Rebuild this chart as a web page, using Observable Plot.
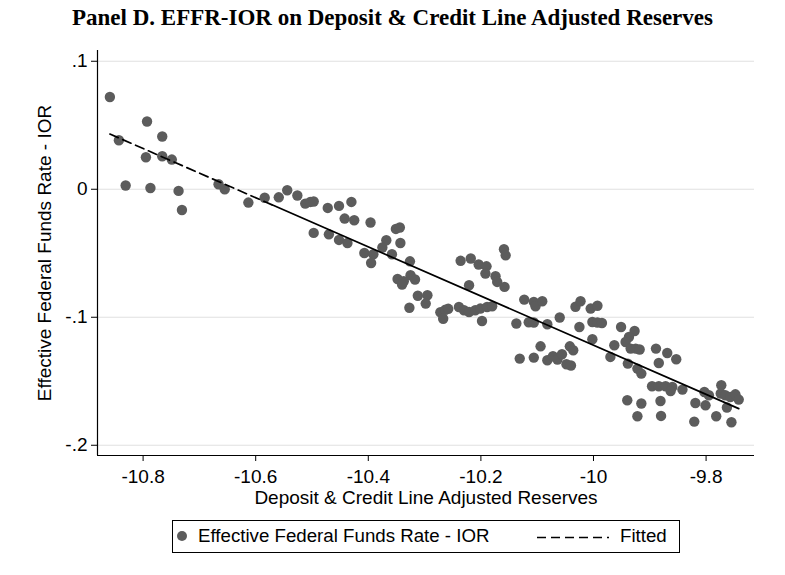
<!DOCTYPE html>
<html><head><meta charset="utf-8">
<script src="https://cdn.jsdelivr.net/npm/d3@7"></script>
<script src="https://cdn.jsdelivr.net/npm/@observablehq/plot@0.6"></script>
<style>
body{margin:0;background:#fff;width:785px;height:575px;overflow:hidden;position:relative;font-family:"Liberation Sans",Arial,sans-serif;}
#title{position:absolute;left:0;top:4px;width:785px;text-align:center;font-family:"Liberation Serif","Times New Roman",serif;font-weight:bold;font-size:23px;line-height:28px;}
#chart{position:absolute;left:0;top:36px;}
#legend{position:absolute;left:172px;top:520px;width:506px;height:31px;border:1px solid #000;font-size:18.7px;}
#legend .dot{position:absolute;left:4px;top:10px;width:10px;height:10px;border-radius:50%;background:#5c5c5c;}
#legend .t1{position:absolute;left:25px;top:4px;line-height:22px;white-space:nowrap;}
#legend svg{position:absolute;left:364px;top:15px;}
#legend .t2{position:absolute;left:447px;top:4px;line-height:22px;white-space:nowrap;}
</style></head><body>
<div id="title"></div>
<div id="chart"></div>
<div id="legend"><div class="dot"></div><span class="t1"></span>
<svg width="72" height="3"><line x1="0" y1="1.5" x2="72" y2="1.5" stroke="#000" stroke-width="1.6" stroke-dasharray="9,5"></line></svg>
<span class="t2"></span></div>
<script>
const titleText = "Panel D. EFFR-IOR on Deposit & Credit Line Adjusted Reserves";
const xLabel = "Deposit & Credit Line Adjusted Reserves";
const yLabel = "Effective Federal Funds Rate - IOR";
const seriesName = "Effective Federal Funds Rate - IOR";
const fitName = "Fitted";

const xTicks = [-10.8, -10.6, -10.4, -10.2, -10, -9.8];
const yTicks = [0.1, 0, -0.1, -0.2];
const xDomain = [-10.881, -9.714];
const yDomain = [-0.208, 0.1084];
const fitSplit = -10.57;

const reserves = [
-10.859,-10.793,-10.843,-10.766,-10.795,-10.766,-10.749,-10.831,-10.787,-10.737,
-10.731,-10.666,-10.655,-10.613,-10.584,-10.559,-10.544,-10.526,-10.512,-10.503,
-10.497,-10.472,-10.452,-10.430,-10.442,-10.425,-10.396,-10.497,-10.470,-10.452,
-10.437,-10.351,-10.344,-10.368,-10.343,-10.375,-10.407,-10.391,-10.395,-10.358,
-10.326,-10.348,-10.337,-10.325,-10.317,-10.340,-10.312,-10.295,-10.298,-10.327,
-10.272,-10.263,-10.267,-10.258,-10.239,-10.236,-10.218,-10.204,-10.190,-10.192,
-10.174,-10.171,-10.158,-10.159,-10.156,-10.221,-10.230,-10.221,-10.210,-10.201,
-10.189,-10.180,-10.198,-10.137,-10.123,-10.106,-10.103,-10.091,-10.115,-10.106,
-10.082,-10.060,-10.094,-10.131,-10.106,-10.082,-10.072,-10.064,-10.056,-10.048,
-10.040,-10.042,-10.036,-10.032,-10.023,-10.005,-9.993,-10.025,-10.002,-9.993,
-10.002,-9.985,-9.951,-9.927,-9.937,-9.943,-9.934,-9.925,-9.918,-9.963,
-9.970,-9.939,-9.922,-9.915,-9.889,-9.869,-9.853,-9.884,-9.896,-9.884,
-9.872,-9.860,-9.863,-9.842,-9.940,-9.915,-9.881,-9.922,-9.880,-9.803,
-9.795,-9.819,-9.801,-9.821,-9.782,-9.755,-9.763,-9.773,-9.774,-9.766,
-9.757,-9.748,-9.742
];
const spread = [
0.0721,0.0529,0.0383,0.0412,0.0250,0.0258,0.0232,0.0029,0.0010,-0.0013,
-0.0162,0.0039,0.0000,-0.0104,-0.0066,-0.0063,-0.0008,-0.0049,-0.0112,-0.0099,
-0.0096,-0.0146,-0.0130,-0.0099,-0.0229,-0.0242,-0.0260,-0.0341,-0.0352,-0.0396,
-0.0420,-0.0310,-0.0299,-0.0398,-0.0420,-0.0455,-0.0498,-0.0508,-0.0576,-0.0508,
-0.0563,-0.0701,-0.0719,-0.0672,-0.0705,-0.0745,-0.0832,-0.0828,-0.0893,-0.0926,
-0.0961,-0.0941,-0.1012,-0.0934,-0.0920,-0.0559,-0.0541,-0.0588,-0.0602,-0.0659,
-0.0680,-0.0724,-0.0763,-0.0469,-0.0516,-0.0750,-0.0945,-0.0959,-0.0945,-0.0932,
-0.0920,-0.0914,-0.1029,-0.1049,-0.0862,-0.0880,-0.0914,-0.0875,-0.1039,-0.1041,
-0.1055,-0.1002,-0.1227,-0.1323,-0.1315,-0.1336,-0.1305,-0.1330,-0.1289,-0.1367,
-0.1377,-0.1227,-0.1258,-0.0918,-0.0875,-0.0932,-0.0910,-0.1076,-0.1037,-0.1041,
-0.1172,-0.1045,-0.1076,-0.1107,-0.1154,-0.1193,-0.1245,-0.1245,-0.1252,-0.1219,
-0.1310,-0.1362,-0.1401,-0.1440,-0.1245,-0.1279,-0.1328,-0.1357,-0.1539,-0.1539,
-0.1539,-0.1545,-0.1576,-0.1565,-0.1648,-0.1674,-0.1654,-0.1773,-0.1771,-0.1584,
-0.1609,-0.1670,-0.1688,-0.1815,-0.1773,-0.1820,-0.1705,-0.1531,-0.1596,-0.1609,
-0.1623,-0.1602,-0.1643
];

document.getElementById("title").textContent = titleText;
document.querySelector("#legend .t1").textContent = seriesName;
document.querySelector("#legend .t2").textContent = fitName;

const points = reserves.map((x, i) => ({x, y: spread[i]}));
const mx = d3.mean(reserves), my = d3.mean(spread);
const slope = d3.sum(points, p => (p.x - mx) * (p.y - my)) / d3.sum(points, p => (p.x - mx) ** 2);
const fit = x => my + slope * (x - mx);
const xMin = d3.min(reserves), xMax = d3.max(reserves);
const fitDashed = [xMin, fitSplit].map(x => ({x, y: fit(x)}));
const fitSolid = [fitSplit, xMax].map(x => ({x, y: fit(x)}));

const yFmt = d => d === 0 ? "0" : String(d).replace("0.", ".");

const chart = Plot.plot({
  width: 785, height: 475,
  marginLeft: 97, marginRight: 31, marginTop: 14, marginBottom: 56,
  style: {fontFamily: "'Liberation Sans', Arial, sans-serif", fontSize: "19px", color: "#000", background: "#fff", overflow: "visible"},
  x: {domain: xDomain},
  y: {domain: yDomain},
  marks: [
    Plot.gridY({ticks: yTicks, stroke: "#e0e0e0", strokeOpacity: 1, strokeWidth: 1.2}),
    Plot.axisY({ticks: yTicks, tickSize: 6, tickPadding: 4, tickFormat: yFmt, label: null, fontSize: 19}),
    Plot.axisX({ticks: xTicks, tickSize: 6, tickPadding: 8, tickFormat: d => String(d), label: null, fontSize: 19}),
    Plot.ruleX([xDomain[0]], {stroke: "#000", strokeWidth: 1.2}),
    Plot.ruleY([yDomain[0]], {stroke: "#000", strokeWidth: 1.2}),
    Plot.dot(points, {x: "x", y: "y", r: 5.2, fill: "#5c5c5c", stroke: "none"}),
    Plot.line(fitDashed, {x: "x", y: "y", stroke: "#000", strokeWidth: 1.7, strokeDasharray: "9,5"}),
    Plot.line(fitSolid, {x: "x", y: "y", stroke: "#000", strokeWidth: 1.7}),
    Plot.text([xLabel], {text: d => d, frameAnchor: "bottom", dy: 48, fontSize: 19}),
    Plot.text([yLabel], {text: d => d, frameAnchor: "left", textAnchor: "middle", rotate: -90, dx: -53, fontSize: 19})
  ]
});
document.getElementById("chart").appendChild(chart);
</script>
</body></html>
